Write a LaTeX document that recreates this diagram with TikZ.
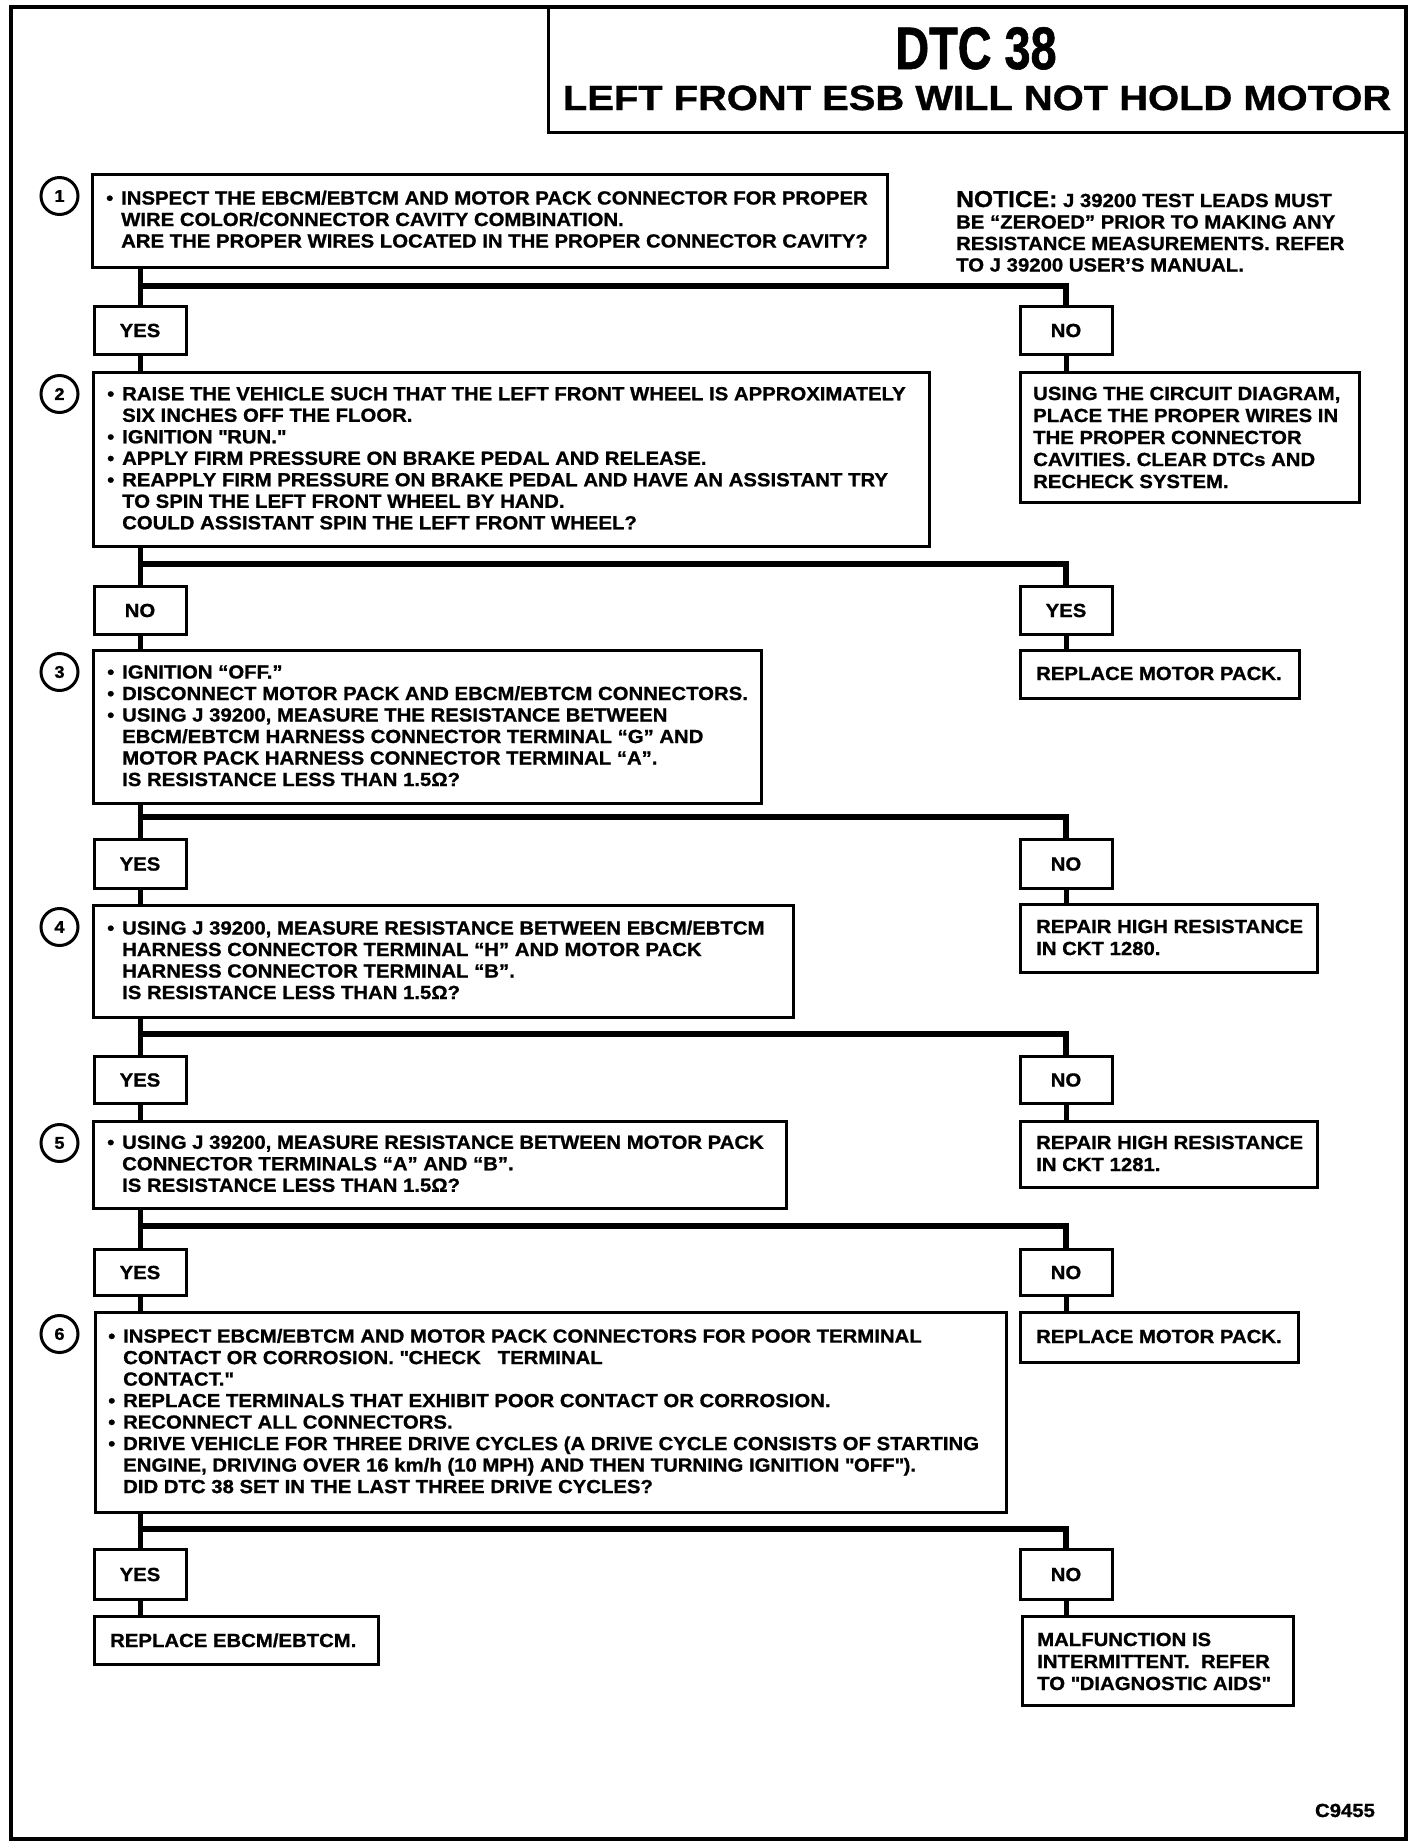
\documentclass[tikz,border=0pt]{standalone}
\usepackage{fontspec}
\setmainfont{Liberation Sans}[FakeStretch=1.07, FakeBold=1]
\newfontfamily\titlefont{Liberation Sans}[FakeStretch=1.14, FakeBold=1]
\newfontfamily\dtcfont{Liberation Sans}[FakeStretch=0.78, FakeBold=1]
\newcommand\lns[1]{\begin{tabular}[t]{@{}l@{}}#1\end{tabular}}
\newcommand\bl{\makebox[15pt][l]{•}}
\newcommand\ind{\hspace*{15pt}}
\newcommand\q{\textquotedbl}
\newcommand\rbox[5]{\node[box, anchor=north west, minimum width={(#4-#2)*1pt}, minimum height={(#5-#3)*1pt}] (#1) at (#2,#3) {};}
\tikzset{
  box/.style={draw, rectangle, line width=3pt, inner sep=0pt},
  yn/.style={box, minimum width=92pt, font=\fontsize{19}{21.5}\selectfont\bfseries},
  txt/.style={inner sep=0pt, anchor=base west, font=\fontsize{19}{21.5}\selectfont\bfseries},
  rtxt/.style={inner sep=0pt, anchor=base west, font=\fontsize{19}{22}\selectfont\bfseries},
  conn/.style={line width=5pt},
  hconn/.style={line width=5.5pt, line join=miter},
  numc/.style={circle, draw, line width=3pt, minimum size=37pt, inner sep=0pt, font=\fontsize{17}{17}\selectfont\bfseries},
}
\begin{document}
\begin{tikzpicture}[x=1pt, y=-1pt]
\useasboundingbox (0,0) rectangle (1424,1848);
% frame and title box
\draw[line width=4pt] (11,7) rectangle (1406,1839);
\draw[line width=3pt] (548,7) -- (548,132) -- (1406,132);
\node[inner sep=0pt, anchor=base, font=\dtcfont\bfseries\fontsize{60}{60}\selectfont] (ttl1) at (976,69) {DTC 38};
\node[inner sep=0pt, anchor=base, font=\titlefont\bfseries\fontsize{35}{35}\selectfont] (ttl2) at (977,110) {LEFT FRONT ESB WILL NOT HOLD MOTOR};

% notice
\node[txt] (notice) at (956,207) {\lns{{\fontsize{23}{21.5}\selectfont NOTICE:} J 39200 TEST LEADS MUST\\
BE “ZEROED” PRIOR TO MAKING ANY\\
RESISTANCE MEASUREMENTS. REFER\\
TO J 39200 USER’S MANUAL.}};

% step boxes
\rbox{b1}{91}{173}{886}{266}
\rbox{b2}{92}{371}{928}{545}
\rbox{b3}{92}{649}{760}{802}
\rbox{b4}{92}{904}{792}{1016}
\rbox{b5}{92}{1120}{785}{1207}
\rbox{b6}{94}{1311}{1005}{1511}
% result boxes
\rbox{r1}{1019}{371}{1358}{501}
\rbox{r2}{1019}{649}{1298}{697}
\rbox{r3}{1019}{903}{1316}{971}
\rbox{r4}{1019}{1120}{1316}{1186}
\rbox{r5}{1019}{1311}{1297}{1361}
\rbox{r6}{1021}{1615}{1292}{1704}
\rbox{rL}{93}{1615}{377}{1663}

% step numbers
\node[numc] (c1) at (59.5,196) {1};
\node[numc] (c2) at (59.5,394) {2};
\node[numc] (c3) at (59.5,672) {3};
\node[numc] (c4) at (59.5,927) {4};
\node[numc] (c5) at (59.5,1143) {5};
\node[numc] (c6) at (59.5,1334) {6};

% yes / no boxes
\node[yn, minimum height=48pt, anchor=north] (y1) at (140,305) {YES};
\node[yn, minimum height=48pt, anchor=north] (n1) at (1066,305) {NO};
\node[yn, minimum height=48pt, anchor=north] (y2) at (140,585) {NO};
\node[yn, minimum height=48pt, anchor=north] (n2) at (1066,585) {YES};
\node[yn, minimum height=49pt, anchor=north] (y3) at (140,838) {YES};
\node[yn, minimum height=49pt, anchor=north] (n3) at (1066,838) {NO};
\node[yn, minimum height=47pt, anchor=north] (y4) at (140,1055) {YES};
\node[yn, minimum height=47pt, anchor=north] (n4) at (1066,1055) {NO};
\node[yn, minimum height=46pt, anchor=north] (y5) at (140,1248) {YES};
\node[yn, minimum height=46pt, anchor=north] (n5) at (1066,1248) {NO};
\node[yn, minimum height=50pt, anchor=north] (y6) at (140,1548) {YES};
\node[yn, minimum height=50pt, anchor=north] (n6) at (1066,1548) {NO};

% branch levels
\coordinate (h1) at (0,286);
\coordinate (h2) at (0,564);
\coordinate (h3) at (0,817);
\coordinate (h4) at (0,1034);
\coordinate (h5) at (0,1226);
\coordinate (h6) at (0,1529);

% connectors
\draw[conn] (b1.south -| y1) -- (y1.north);
\draw[hconn] (y1 |- h1) -- (n1 |- h1) -- (n1.north);
\draw[conn] (y1.south) -- (b2.north -| y1);
\draw[conn] (n1.south) -- (r1.north -| n1);

\draw[conn] (b2.south -| y2) -- (y2.north);
\draw[hconn] (y2 |- h2) -- (n2 |- h2) -- (n2.north);
\draw[conn] (y2.south) -- (b3.north -| y2);
\draw[conn] (n2.south) -- (r2.north -| n2);

\draw[conn] (b3.south -| y3) -- (y3.north);
\draw[hconn] (y3 |- h3) -- (n3 |- h3) -- (n3.north);
\draw[conn] (y3.south) -- (b4.north -| y3);
\draw[conn] (n3.south) -- (r3.north -| n3);

\draw[conn] (b4.south -| y4) -- (y4.north);
\draw[hconn] (y4 |- h4) -- (n4 |- h4) -- (n4.north);
\draw[conn] (y4.south) -- (b5.north -| y4);
\draw[conn] (n4.south) -- (r4.north -| n4);

\draw[conn] (b5.south -| y5) -- (y5.north);
\draw[hconn] (y5 |- h5) -- (n5 |- h5) -- (n5.north);
\draw[conn] (y5.south) -- (b6.north -| y5);
\draw[conn] (n5.south) -- (r5.north -| n5);

\draw[conn] (b6.south -| y6) -- (y6.north);
\draw[hconn] (y6 |- h6) -- (n6 |- h6) -- (n6.north);
\draw[conn] (y6.south) -- (rL.north -| y6);
\draw[conn] (n6.south) -- (r6.north -| n6);

% step texts
\node[txt] (t1) at (106,204.5) {\lns{\bl INSPECT THE EBCM/EBTCM AND MOTOR PACK CONNECTOR FOR PROPER\\
\ind WIRE COLOR/CONNECTOR CAVITY COMBINATION.\\
\ind ARE THE PROPER WIRES LOCATED IN THE PROPER CONNECTOR CAVITY?}};

\node[txt] (t2) at (107,400.3) {\lns{\bl RAISE THE VEHICLE SUCH THAT THE LEFT FRONT WHEEL IS APPROXIMATELY\\
\ind SIX INCHES OFF THE FLOOR.\\
\bl IGNITION \q RUN.\q\\
\bl APPLY FIRM PRESSURE ON BRAKE PEDAL AND RELEASE.\\
\bl REAPPLY FIRM PRESSURE ON BRAKE PEDAL AND HAVE AN ASSISTANT TRY\\
\ind TO SPIN THE LEFT FRONT WHEEL BY HAND.\\
\ind COULD ASSISTANT SPIN THE LEFT FRONT WHEEL?}};

\node[txt] (t3) at (107,678.5) {\lns{\bl IGNITION “OFF.”\\
\bl DISCONNECT MOTOR PACK AND EBCM/EBTCM CONNECTORS.\\
\bl USING J 39200, MEASURE THE RESISTANCE BETWEEN\\
\ind EBCM/EBTCM HARNESS CONNECTOR TERMINAL “G” AND\\
\ind MOTOR PACK HARNESS CONNECTOR TERMINAL “A”.\\
\ind IS RESISTANCE LESS THAN 1.5Ω?}};

\node[txt] (t4) at (107,934.5) {\lns{\bl USING J 39200, MEASURE RESISTANCE BETWEEN EBCM/EBTCM\\
\ind HARNESS CONNECTOR TERMINAL “H” AND MOTOR PACK\\
\ind HARNESS CONNECTOR TERMINAL “B”.\\
\ind IS RESISTANCE LESS THAN 1.5Ω?}};

\node[txt] (t5) at (107,1148.8) {\lns{\bl USING J 39200, MEASURE RESISTANCE BETWEEN MOTOR PACK\\
\ind CONNECTOR TERMINALS “A” AND “B”.\\
\ind IS RESISTANCE LESS THAN 1.5Ω?}};

\node[txt] (t6) at (108,1342.6) {\lns{\bl INSPECT EBCM/EBTCM AND MOTOR PACK CONNECTORS FOR POOR TERMINAL\\
\ind CONTACT OR CORROSION. \q CHECK \ \ TERMINAL\\
\ind CONTACT.\q\\
\bl REPLACE TERMINALS THAT EXHIBIT POOR CONTACT OR CORROSION.\\
\bl RECONNECT ALL CONNECTORS.\\
\bl DRIVE VEHICLE FOR THREE DRIVE CYCLES (A DRIVE CYCLE CONSISTS OF STARTING\\
\ind ENGINE, DRIVING OVER 16 km/h (10 MPH) AND THEN TURNING IGNITION \q OFF\q).\\
\ind DID DTC 38 SET IN THE LAST THREE DRIVE CYCLES?}};

% result texts
\node[rtxt] (tr1) at (1033,400) {\lns{USING THE CIRCUIT DIAGRAM,\\
PLACE THE PROPER WIRES IN\\
THE PROPER CONNECTOR\\
CAVITIES. CLEAR DTCs AND\\
RECHECK SYSTEM.}};
\node[rtxt] (tr2) at (1036,680) {REPLACE MOTOR PACK.};
\node[rtxt] (tr3) at (1036,933) {\lns{REPAIR HIGH RESISTANCE\\ IN CKT 1280.}};
\node[rtxt] (tr4) at (1036,1149) {\lns{REPAIR HIGH RESISTANCE\\ IN CKT 1281.}};
\node[rtxt] (tr5) at (1036,1343) {REPLACE MOTOR PACK.};
\node[rtxt] (tr6) at (1037,1646) {\lns{MALFUNCTION IS\\ INTERMITTENT.\ \ REFER\\ TO \q DIAGNOSTIC AIDS\q}};
\node[rtxt] (trL) at (110,1647) {REPLACE EBCM/EBTCM.};

\node[txt, anchor=base] (code) at (1345,1817) {C9455};
\end{tikzpicture}
\end{document}
